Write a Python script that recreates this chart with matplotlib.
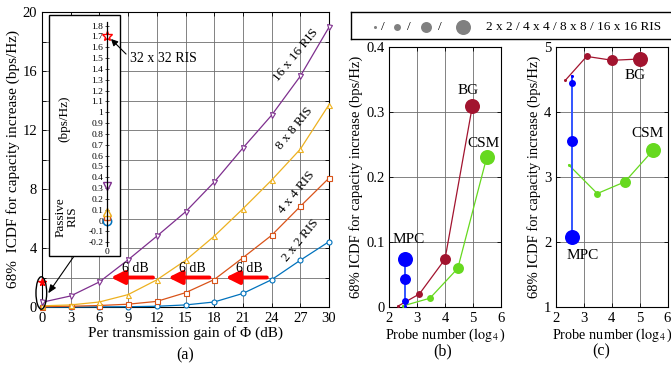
import numpy as np
import matplotlib
matplotlib.use('Agg')
import matplotlib.pyplot as plt
from matplotlib.patches import Rectangle, Ellipse, FancyArrowPatch

plt.rcParams['font.family'] = ['Liberation Serif', 'DejaVu Serif']
plt.rcParams['mathtext.fontset'] = 'stix'

# ---- (a) данные ----
gain_db = [0, 3, 6, 9, 12, 15, 18, 21, 24, 27, 30]
ris_2x2 = [0.0, 0.0, 0.01, 0.02, 0.05, 0.14, 0.34, 0.92, 1.85, 3.17, 4.43]
ris_4x4 = [0.03, 0.05, 0.1, 0.19, 0.38, 0.97, 1.86, 3.34, 4.86, 6.82, 8.74]
ris_8x8 = [0.08, 0.14, 0.34, 0.84, 1.84, 3.16, 4.8, 6.66, 8.6, 10.7, 13.72]
ris_16x16 = [0.32, 0.75, 1.7, 3.2, 4.8, 6.45, 8.47, 10.78, 13.0, 15.65, 18.97]
ris_32x32_passive = 1.7
arrow_tails = [11.6, 17.5, 23.5]
arrow_heads = [7.2, 13.2, 19.2]
arrow_label_x = [9.8, 15.75, 21.7]

# ---- (b), (c) данные: 2x2 / 4x4 / 8x8 / 16x16 ----
bg_x_b = [2.32, 3.08, 4.0, 4.98]
bg_y_b = [0.002, 0.0205, 0.074, 0.309]
csm_x_b = [2.48, 3.46, 4.46, 5.5]
csm_y_b = [0.002, 0.014, 0.06, 0.231]
mpc_x_b = [2.57, 2.57, 2.57, 2.57]
mpc_y_b = [0.002, 0.010, 0.043, 0.074]

bg_x_c = [2.33, 3.1, 4.02, 5.0]
bg_y_c = [4.49, 4.86, 4.80, 4.82]
csm_x_c = [2.46, 3.48, 4.47, 5.49]
csm_y_c = [3.19, 2.75, 2.93, 3.42]
mpc_x_c = [2.58, 2.58, 2.58, 2.58]
mpc_y_c = [4.56, 4.45, 3.56, 2.08]

sizes = [2.2, 5.0, 7.9, 10.8]

c_blue = '#0072BD'
c_orange = '#D95319'
c_yellow = '#EDB120'
c_purple = '#7E2F8E'
c_bg = '#A2142F'
c_csm = '#66D91F'
c_mpc = '#0000FF'

W, H = 671, 365
fig = plt.figure(figsize=(6.71, 3.65), dpi=100)


def fx(px):
    return px / W


def fy(py):
    return 1 - py / H


# ---------------- (a) ----------------
ax = fig.add_axes([fx(42), fy(307), fx(329 - 42), (307 - 12) / H])
for y, c, m in [(ris_2x2, c_blue, 'o'), (ris_4x4, c_orange, 's'),
                (ris_8x8, c_yellow, '^'), (ris_16x16, c_purple, 'v')]:
    ax.plot(gain_db, y, color=c, marker=m, ms=3.6, mfc='white', mew=0.8,
            lw=0.9, clip_on=False, zorder=4)
ax.plot([0], [ris_32x32_passive], marker='*', color='red', ms=5.5,
        clip_on=False, zorder=5)
ax.set_xlim(0, 30)
ax.set_ylim(0, 20)
ax.set_xticks(np.arange(0, 31, 3))
ax.set_yticks(np.arange(0, 21, 4))
ax.set_yticks(np.arange(2, 20, 4), minor=True)
ax.grid(True, which='both', color='#6e6e6e', lw=0.6)
ax.tick_params(which='both', direction='in', top=True, right=True,
               labelsize=10.5, length=3, width=0.6)
ax.set_xlabel('Per transmission gain of Φ (dB)', fontsize=11, labelpad=1)
ax.set_ylabel('68%  ICDF for capacity increase (bps/Hz)', fontsize=11,
              labelpad=2)
for sp in ax.spines.values():
    sp.set_linewidth(0.8)

for t, h, lx in zip(arrow_tails, arrow_heads, arrow_label_x):
    ax.annotate('', xy=(h, 2), xytext=(t, 2),
                arrowprops=dict(arrowstyle='-|>,head_length=0.8,head_width=0.4',
                                color='red', lw=2.8, shrinkA=0, shrinkB=0),
                zorder=6)
    ax.text(lx, 2.2, '6 dB', fontsize=10, ha='center', va='bottom',
            zorder=6)

ax.text(26.5, 17.1, '16 x 16 RIS', rotation=51, fontsize=9.5,
        ha='center', va='center')
ax.text(26.4, 12.1, '8 x 8 RIS', rotation=51, fontsize=9.5,
        ha='center', va='center')
ax.text(26.6, 7.8, '4 x 4 RIS', rotation=51, fontsize=9.5,
        ha='center', va='center')
ax.text(27.0, 4.5, '2 x 2 RIS', rotation=51, fontsize=9.5,
        ha='center', va='center')

ax.add_patch(Ellipse((-0.07, 0.95), 1.12, 2.2, fill=False, color='black',
                     lw=1.0, clip_on=False, zorder=6))
ax.annotate('', xy=(0.65, 0.93), xytext=(3.35, 3.45),
            arrowprops=dict(arrowstyle='-|>,head_length=0.5,head_width=0.2',
                            color='black', lw=0.8, shrinkA=0, shrinkB=0),
            zorder=6)

# рамка вставки
ax.add_patch(Rectangle((fx(49), fy(256)), fx(120 - 49), (256 - 15) / H,
                       transform=fig.transFigure, facecolor='white',
                       edgecolor='black', lw=1.0, clip_on=False, zorder=7))

# вставка
ins = fig.add_axes([fx(107), fy(245.5), fx(8), (245.5 - 22.4) / H])
ins.set_zorder(5)
ins.patch.set_alpha(0)
for sp in ['top', 'right', 'bottom']:
    ins.spines[sp].set_visible(False)
ins.spines['left'].set_linewidth(0.9)
ins.set_xlim(0, 1)
ins.set_ylim(-0.23, 1.83)
yt = np.round(np.arange(-0.2, 1.81, 0.1), 1)
ins.set_yticks(yt)
ins.set_yticklabels(['0' if v == 0 else ('%g' % v) for v in yt])
ins.set_xticks([0])
ins.tick_params(axis='y', direction='inout', length=2.5, width=0.5,
                labelsize=6.8, pad=1.5)
ins.tick_params(axis='x', length=0, labelsize=6.8, pad=2)
ins.plot([0], [ris_2x2[0]], marker='o', color=c_blue, mfc='white', ms=6,
         mew=1.1, clip_on=False)
ins.plot([0], [ris_4x4[0]], marker='s', color=c_orange, mfc='white', ms=5,
         mew=1.0, clip_on=False)
ins.plot([0], [ris_8x8[0]], marker='^', color=c_yellow, mfc='white', ms=6,
         mew=1.0, clip_on=False)
ins.plot([0], [ris_16x16[0]], marker='v', color=c_purple, mfc='white', ms=6,
         mew=1.0, clip_on=False)
ins.plot([0], [ris_32x32_passive], marker='*', color='red', mfc='white',
         ms=7, mew=1.0, clip_on=False)
fig.text(fx(64), fy(119), '(bps/Hz)', rotation=90, fontsize=9.5,
         ha='center', va='center', zorder=8)
fig.text(fx(66.5), fy(217), 'Passive\nRIS', rotation=90, fontsize=9.5,
         ha='center', va='center', linespacing=1.0, zorder=8)
fig.text(fx(130), fy(58), '32 x 32 RIS', fontsize=10, ha='left',
         va='center', zorder=8)
fig.add_artist(FancyArrowPatch(
    (128, H - 56), (109, H - 37), transform=None,
    arrowstyle='-|>,head_length=4,head_width=2', color='black', lw=0.8,
    zorder=8))


# ---------------- (b), (c) ----------------
def probe_panel(a, bgx, bgy, csx, csy, mpx, mpy):
    a.plot(bgx, bgy, color=c_bg, lw=0.9, zorder=3, clip_on=False)
    a.plot(csx, csy, color=c_csm, lw=0.9, zorder=3, clip_on=False)
    a.plot(mpx, mpy, color='#3355FF', lw=1.4, zorder=3, clip_on=False)
    for xs, ys, c in [(bgx, bgy, c_bg), (csx, csy, c_csm), (mpx, mpy, c_mpc)]:
        for x, y, s in zip(xs, ys, sizes):
            a.plot([x], [y], marker='o', color=c, ms=s, mew=0, zorder=4,
                   clip_on=False)
    a.set_xlim(2, 6)
    a.set_xticks([2, 3, 4, 5, 6])
    a.grid(True, color='#6e6e6e', lw=0.6)
    a.tick_params(direction='in', top=True, right=True, labelsize=10.5,
                  length=3, width=0.6)
    a.set_xlabel(r'Probe number ($\log_4$)', fontsize=10.3, labelpad=1)
    a.set_ylabel('68% ICDF for capacity increase (bps/Hz)', fontsize=10.5,
                 labelpad=2)
    for sp in a.spines.values():
        sp.set_linewidth(0.8)


axb = fig.add_axes([fx(389.3), fy(307.3), fx(500.7 - 389.3), 260 / H])
probe_panel(axb, bg_x_b, bg_y_b, csm_x_b, csm_y_b, mpc_x_b, mpc_y_b)
axb.set_ylim(0, 0.4)
axb.set_yticks([0, 0.1, 0.2, 0.3, 0.4])
axb.set_yticklabels(['0', '0.1', '0.2', '0.3', '0.4'])
axb.text(4.84, 0.334, 'BG', fontsize=11, ha='center', va='center')
axb.text(5.38, 0.252, 'CSM', fontsize=11, ha='center', va='center')
axb.text(2.68, 0.105, 'MPC', fontsize=11, ha='center', va='center')

axc = fig.add_axes([fx(556), fy(307.3), fx(667.5 - 556), 260 / H])
probe_panel(axc, bg_x_c, bg_y_c, csm_x_c, csm_y_c, mpc_x_c, mpc_y_c)
axc.set_ylim(1, 5)
axc.set_yticks([1, 2, 3, 4, 5])
axc.text(4.82, 4.56, 'BG', fontsize=11, ha='center', va='center')
axc.text(5.3, 3.67, 'CSM', fontsize=11, ha='center', va='center')
axc.text(2.96, 1.80, 'MPC', fontsize=11, ha='center', va='center')

# легенда размеров
lg = fig.add_axes([fx(351), fy(39), 1 - fx(351) + 0.01, 27 / H])
lg.set_xlim(351, W + 6.7)
lg.set_ylim(39, 12)
lg.set_xticks([])
lg.set_yticks([])
for sp in lg.spines.values():
    sp.set_linewidth(1.0)
for x, s in zip([375, 397.3, 426, 462.7], sizes):
    lg.plot([x], [26.5], marker='o', color='#808080', ms=s, mew=0)
for x in [383.3, 409, 440]:
    lg.text(x, 26.5, '/', fontsize=9.5, ha='center', va='center')
lg.text(486, 26.5, '2 x 2 / 4 x 4 / 8 x 8 / 16 x 16 RIS', fontsize=9.5,
        ha='left', va='center')

fig.text(fx(185), fy(355), '(a)', fontsize=11.5, ha='center', va='center')
fig.text(fx(443), fy(351), '(b)', fontsize=11.5, ha='center', va='center')
fig.text(fx(601), fy(351), '(c)', fontsize=11.5, ha='center', va='center')

fig.savefig('out.png', dpi=100)
